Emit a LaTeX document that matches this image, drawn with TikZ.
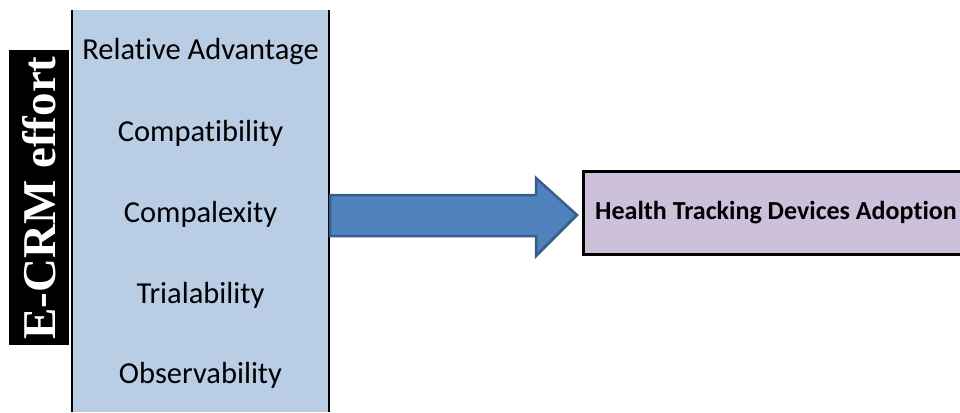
\documentclass[tikz,border=0pt]{standalone}
\usepackage{fontspec}
\setmainfont[Ligatures=NoCommon]{Carlito}
\newfontfamily\serifbold{Liberation Serif}
\definecolor{boxblue}{HTML}{B9CDE5}
\definecolor{boxpurple}{HTML}{CCC0DA}
\definecolor{arrowfill}{HTML}{4F81BD}
\definecolor{arrowline}{HTML}{385D8A}
\tikzset{
  factor/.style={font=\fontsize{30.5}{34}\selectfont, anchor=center, inner sep=0pt},
}
\begin{document}
\begin{tikzpicture}[x=1pt,y=-1pt]
\useasboundingbox (0,0) rectangle (960,412);
% blue box
\fill[boxblue] (72,10) rectangle (329,412);
\draw[black, line width=2.5pt] (72,10) -- (72,412);
\draw[black, line width=2.5pt] (329,10) -- (329,412);
\coordinate (bluebox) at (200.5,211);
% side label
\fill[black] (9,50) rectangle (69,345);
\node[rotate=90, text=white, font=\serifbold\bfseries\fontsize{47}{50}\selectfont, inner sep=0pt] (label) at (39,198) {E-CRM effort};
% factors
\node[factor] (f1) at (200.5,52) {Relative Advantage};
\node[factor] (f2) at (200.5,133) {Compatibility};
\node[factor] (f3) at (200.5,214) {Compalexity};
\node[factor] (f4) at (200.5,295) {Trialability};
\node[factor] (f5) at (200.5,375) {Observability};
% purple box
\fill[boxpurple] (583.5,171.5) rectangle (962,254);
\draw[black, line width=3pt] (962,171.5) -- (583.5,171.5) -- (583.5,254) -- (962,254);
\node[font=\bfseries\fontsize{26}{30}\selectfont, inner sep=0pt, anchor=west] (target) at (595,213) {Health Tracking Devices Adoption};
% arrow
\draw[arrowline, fill=arrowfill, line width=2.5pt, line join=miter]
  (330,195) -- (536,195) -- (536,178) -- (577,215) -- (536,256) -- (536,236) -- (330,236) -- cycle;
\end{tikzpicture}
\end{document}
